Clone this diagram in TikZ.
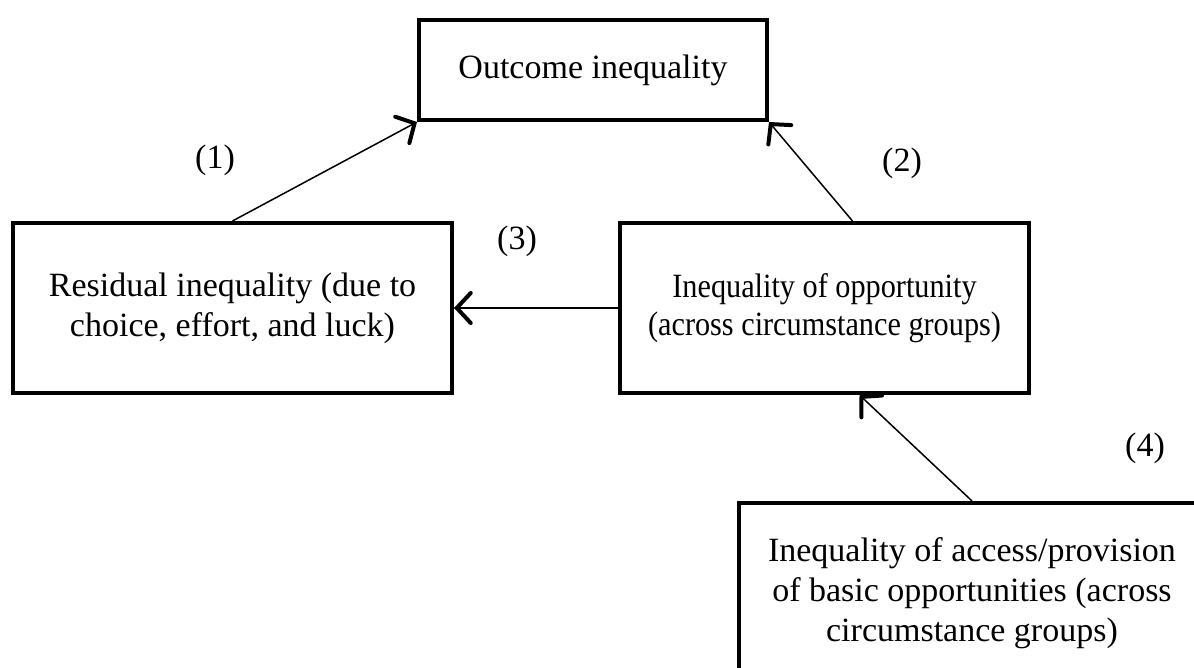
\documentclass[tikz,border=0pt]{standalone}
\usepackage{fontspec}
\setmainfont{Liberation Serif}
\newfontfamily\narrowserif[FakeStretch=0.89]{Liberation Serif}
\usetikzlibrary{arrows.meta}
\begin{document}
\begin{tikzpicture}[
    x=1pt, y=1pt,
    every node/.style={font=\fontsize{34}{40}\selectfont, align=center},
    box/.style={draw, line width=4pt, inner sep=0pt},
    link/.style={line width=1.5pt,
        -{Straight Barb[length=14pt, width=30pt, line width=4pt, line cap=round]}}
]
\useasboundingbox (0,0) rectangle (1194,668);
\clip (0,0) rectangle (1194,668);
\node[box, minimum width=348, minimum height=100] (outcome) at (593,598) {Outcome inequality};
\node[box, minimum width=439, minimum height=170] (residual) at (232.5,360)
    {Residual inequality (due to\\choice, effort, and luck)};
\node[box, minimum width=409, minimum height=170,
    font=\narrowserif\fontsize{34}{38}\selectfont] (opportunity) at (824.5,360)
    {Inequality of opportunity\\(across circumstance groups)};
\node[box, minimum width=466, minimum height=180] (access) at (972,75)
    {Inequality of access/provision\\of basic opportunities (across\\circumstance groups)};
\draw[link] (residual.north) -- (outcome.south west);
\draw[link] ([xshift=28]opportunity.north) -- (outcome.south east);
\draw[link] (opportunity.west) -- (residual.east);
\draw[link] (access.north) -- ([xshift=35]opportunity.south);
\node (l1) at (215,508) {(1)};
\node (l2) at (902,505) {(2)};
\node (l3) at (517,427) {(3)};
\node (l4) at (1145,220) {(4)};
\end{tikzpicture}
\end{document}
